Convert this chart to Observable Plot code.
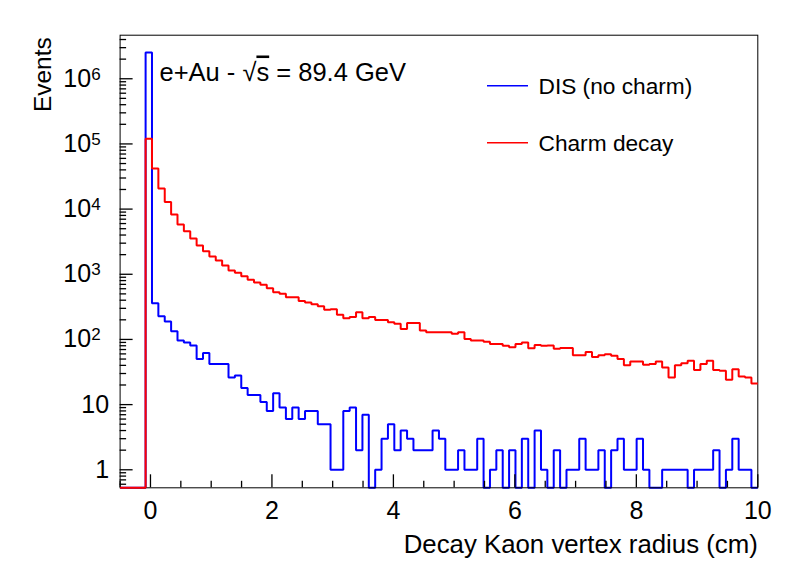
<!DOCTYPE html>
<html>
<head>
<meta charset="utf-8">
<script src="https://cdn.jsdelivr.net/npm/d3@7"></script>
<script src="https://cdn.jsdelivr.net/npm/@observablehq/plot@0.6"></script>
<style>
  html, body { margin: 0; padding: 0; background: #fff; }
  #chart { width: 798px; height: 575px; }
</style>
</head>
<body>
<div id="chart"></div>
<script>
// Histogram binning (100 bins from -0.5 to 10 cm)
const binLow = -0.5;
const binHigh = 10;
const nBins = 100;

// DIS (no charm) counts per bin
const disCounts = [
  0, 0, 0, 0, 2530000, 360, 227, 189, 134, 96,
  90, 81, 50, 62, 42, 42, 42, 26, 28, 18,
  14, 14, 11, 8, 15, 9, 6, 9, 6, 8,
  8, 5, 5, 1, 1, 8, 9, 2, 7, 0,
  1, 3, 5, 2, 4, 3, 2, 2, 2, 4,
  3, 1, 1, 2, 1, 1, 3, 0, 1, 2,
  0, 2, 0, 3, 0, 4, 1, 0, 2, 0,
  1, 1, 3, 1, 1, 2, 0, 2, 3, 1,
  1, 3, 1, 0, 0, 1, 1, 1, 1, 0,
  1, 1, 1, 2, 0, 1, 3, 1, 1, 0
];

// Charm decay counts per bin
const charmCounts = [
  0, 0, 0, 0, 120000, 42000, 20700, 12800, 8270, 5800,
  4580, 3540, 2770, 2260, 1875, 1630, 1365, 1145, 1055, 930,
  823, 748, 690, 612, 528, 501, 445, 445, 388, 369,
  348, 324, 285, 291, 239, 212, 220, 262, 212, 220,
  198, 198, 184, 174, 144, 178, 178, 137, 129, 129,
  129, 129, 122, 129, 102, 96, 96, 92, 85, 85,
  80, 76, 85, 90, 73, 82, 80, 81, 72, 74,
  74, 57, 57, 64, 54, 57, 59, 56, 50, 40,
  46, 46, 41, 42, 46, 37, 26, 40, 43, 47,
  34, 42, 47, 34, 33, 24, 35, 27, 26, 21
];

const seriesNames = ["DIS (no charm)", "Charm decay"];
const xTicks = [0, 2, 4, 6, 8, 10];
const yTicks = [1, 10, 100, 1000, 10000, 100000, 1000000];
const yTickLabels = ["1", "10", "10^2", "10^3", "10^4", "10^5", "10^6"];
const annotation = "e+Au - √s = 89.4 GeV";
const xTitle = "Decay Kaon vertex radius (cm)";
const yTitle = "Events";

// ---- layout / styling ----
const W = 798, H = 575;
const mL = 119.6, mR = 40.7, mT = 34.7, mB = 87.7;
const plotW = W - mL - mR, plotH = H - mT - mB;
const yMin = 0.529, yMax = 4.66e6;
const binWidth = (binHigh - binLow) / nBins;

function steps(counts) {
  const pts = [{x: binLow, y: yMin}];
  counts.forEach((c, i) => {
    const v = c > 0 ? c : yMin;
    pts.push({x: binLow + i * binWidth, y: v});
    pts.push({x: binLow + (i + 1) * binWidth, y: v});
  });
  return pts;
}
const disSteps = steps(disCounts);
const charmSteps = steps(charmCounts);

const xMinor = d3.range(-0.5, 10.001, 0.5).filter(v => !xTicks.includes(v));
const yMinor = [];
for (let e = -1; e <= 6; e++) for (let m = 2; m <= 9; m++) {
  const v = m * Math.pow(10, e);
  if (v >= yMin && v <= yMax) yMinor.push(v);
}
const yLabelMap = new Map(yTicks.map((t, i) => [t, yTickLabels[i]]));
const font = "'Liberation Sans', Arial, Helvetica, sans-serif";

const lineStyle = {strokeWidth: 2, strokeLinejoin: "miter", strokeLinecap: "butt"};

const svg = Plot.plot({
  width: W, height: H,
  marginLeft: mL, marginRight: mR, marginTop: mT, marginBottom: mB,
  style: {fontFamily: font, background: "white", color: "black"},
  x: {domain: [binLow, binHigh]},
  y: {type: "log", domain: [yMin, yMax]},
  marks: [
    Plot.line(disSteps, {x: "x", y: "y", stroke: "#0000ff", ...lineStyle}),
    Plot.frame({stroke: "black", strokeWidth: 1}),
    Plot.tickX(xTicks, {x: d => d, insetTop: plotH - 13, stroke: "black", strokeWidth: 1.3}),
    Plot.tickX(xMinor, {x: d => d, insetTop: plotH - 6.5, stroke: "black", strokeWidth: 1.3}),
    Plot.tickY(yTicks, {y: d => d, insetRight: plotW - 13, stroke: "black", strokeWidth: 1.3}),
    Plot.tickY(yMinor, {y: d => d, insetRight: plotW - 6.5, stroke: "black", strokeWidth: 1.3}),
    Plot.axisX(xTicks, {tickSize: 0, tickPadding: 13, fontSize: 25, label: null, tickFormat: d => String(d)}),
    Plot.axisY(yTicks, {tickSize: 0, tickPadding: 11, fontSize: 25, label: null, tickFormat: d => yLabelMap.get(d)}),
    Plot.line(charmSteps, {x: "x", y: "y", stroke: "#ff0000", ...lineStyle}),
    Plot.text([yTitle], {frameAnchor: "top-left", dx: 50 - mL, dy: 2, rotate: -90, textAnchor: "end", lineAnchor: "bottom", fontSize: 24.5, fill: "black"}),
    Plot.text([xTitle], {frameAnchor: "bottom-right", dy: 64.7, textAnchor: "end", lineAnchor: "bottom", fontSize: 25.8, fill: "black"}),
    Plot.text([annotation], {frameAnchor: "top-left", dx: 159 - mL, dy: 80 - mT, textAnchor: "start", lineAnchor: "bottom", fontSize: 25.5, fill: "black"}),
    Plot.text([seriesNames[0]], {frameAnchor: "top-left", dx: 538 - mL, dy: 93 - mT, textAnchor: "start", lineAnchor: "bottom", fontSize: 22.7, fill: "black"}),
    Plot.text([seriesNames[1]], {frameAnchor: "top-left", dx: 538 - mL, dy: 150 - mT, textAnchor: "start", lineAnchor: "bottom", fontSize: 22.7, fill: "black"})
  ]
});

// superscripts on the log-axis labels
d3.select(svg).selectAll("text").each(function() {
  const t = this.textContent;
  const m = /^10\^(\d)$/.exec(t);
  if (m) this.innerHTML = `10<tspan dy="-0.42em" font-size="0.68em">${m[1]}\u2002</tspan>`;
  if (t === annotation) this.innerHTML = `e+Au - √<tspan style="text-decoration: overline">s</tspan> = 89.4 GeV`;
});

// legend swatches
const lg = d3.select(svg).append("g");
lg.append("line").attr("x1", 487).attr("x2", 528).attr("y1", 85.7).attr("y2", 85.7).attr("stroke", "#0000ff").attr("stroke-width", 1.5);
lg.append("line").attr("x1", 487).attr("x2", 528).attr("y1", 142.7).attr("y2", 142.7).attr("stroke", "#ff0000").attr("stroke-width", 1.5);

document.getElementById("chart").appendChild(svg);
</script>
</body>
</html>
